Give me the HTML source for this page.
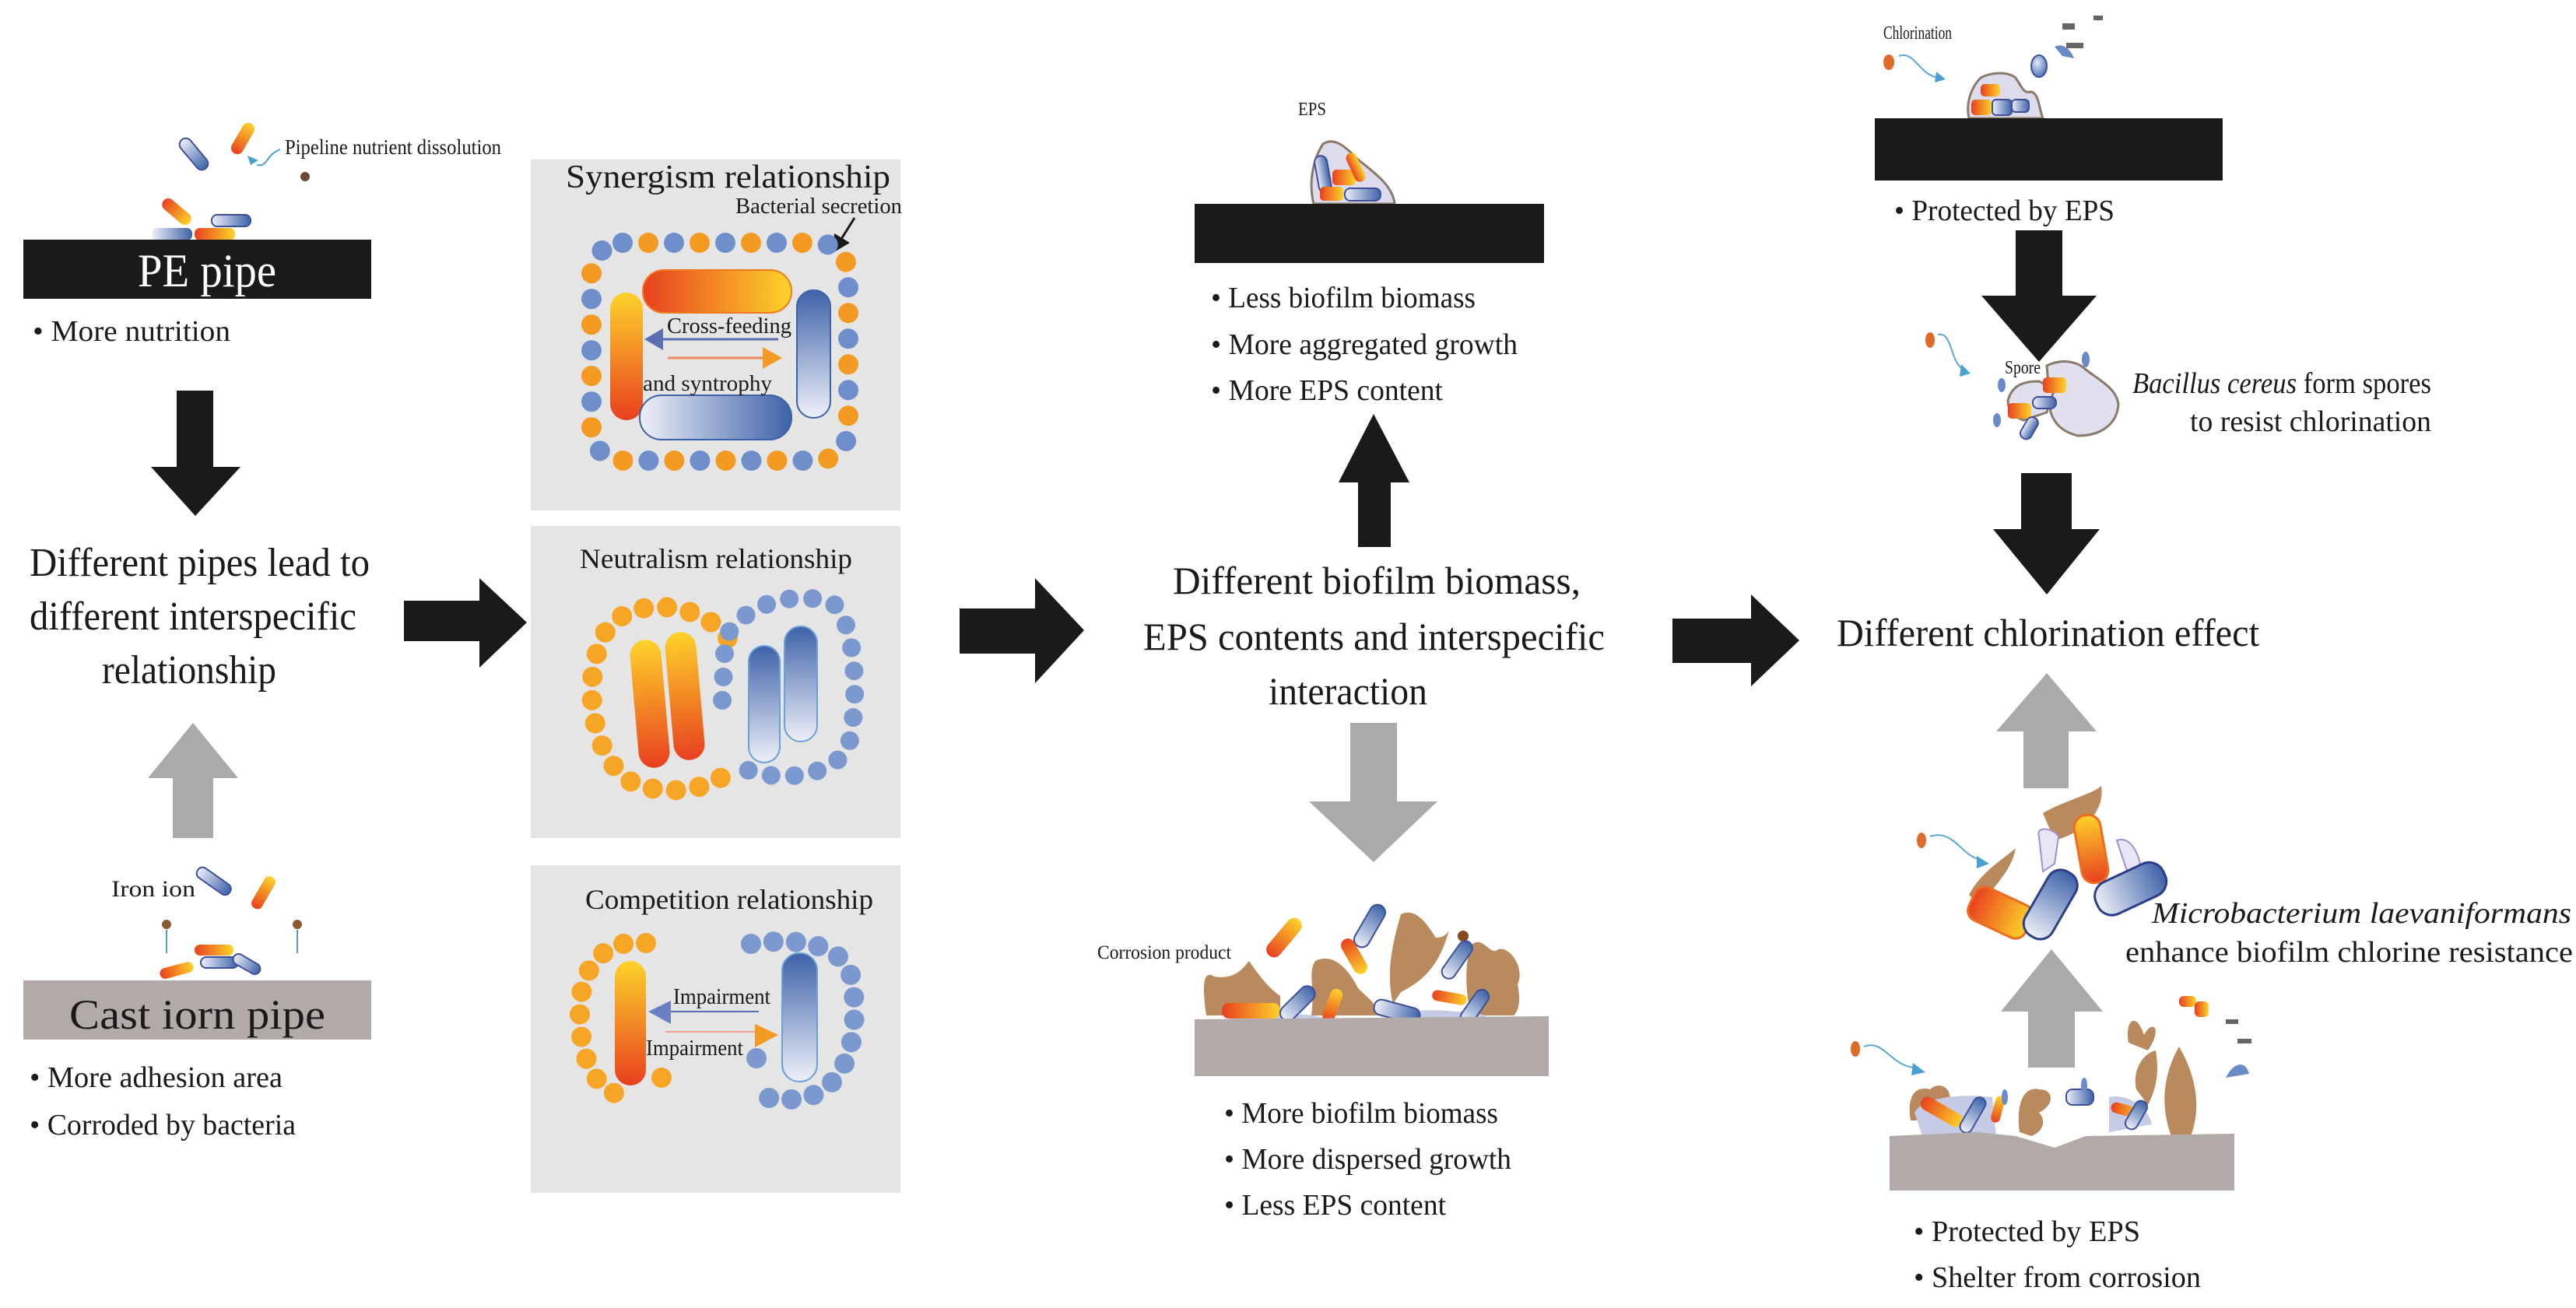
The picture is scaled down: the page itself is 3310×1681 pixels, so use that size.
<!DOCTYPE html>
<html><head><meta charset="utf-8"><style>
html,body{margin:0;padding:0;background:#fff;}
svg{display:block;}
text{font-family:"Liberation Serif",serif;fill:#1a1a1a;}
</style></head><body>
<svg width="3310" height="1681" viewBox="0 0 3310 1681" xmlns="http://www.w3.org/2000/svg">
<defs>
<linearGradient id="og" x1="0" y1="0" x2="1" y2="0"><stop offset="0" stop-color="#e8401f"/><stop offset="1" stop-color="#fdd32a"/></linearGradient>
<linearGradient id="ogv" x1="0" y1="1" x2="0" y2="0"><stop offset="0" stop-color="#e8401f"/><stop offset="1" stop-color="#fdd32a"/></linearGradient>
<linearGradient id="bg" x1="0" y1="0" x2="1" y2="0"><stop offset="0" stop-color="#eef0f8"/><stop offset="1" stop-color="#3d62a8"/></linearGradient>
<linearGradient id="bgv" x1="0" y1="1" x2="0" y2="0"><stop offset="0" stop-color="#eef0f8"/><stop offset="1" stop-color="#3d62a8"/></linearGradient>
<radialGradient id="od" cx="0.4" cy="0.35" r="0.7"><stop offset="0" stop-color="#fdd32a"/><stop offset="1" stop-color="#f07a20"/></radialGradient>
<radialGradient id="bd" cx="0.4" cy="0.35" r="0.7"><stop offset="0" stop-color="#e6eaf5"/><stop offset="1" stop-color="#4a6fb5"/></radialGradient>
</defs>

<!-- ===== LEFT COLUMN ===== -->
<text x="366" y="198" font-size="27" textLength="278" lengthAdjust="spacingAndGlyphs">Pipeline nutrient dissolution</text>
<path d="M360 192 C340 200 345 215 330 212" stroke="#4aa0d0" stroke-width="2" fill="none"/>
<polygon points="318,200 332,206 322,212" fill="#4aa0d0"/>
<circle cx="392" cy="227" r="6" fill="#6b4a3a"/>
<rect x="225" y="190" width="48" height="16" rx="8" fill="url(#bg)" stroke="#3d4f9a" stroke-width="2" transform="rotate(50 249 198)"/>
<rect x="290" y="170" width="44" height="16" rx="8" fill="url(#og)" transform="rotate(-60 312 178)"/>
<rect x="205" y="264" width="44" height="16" rx="8" fill="url(#og)" transform="rotate(40 227 272)"/>
<rect x="272" y="276" width="50" height="15" rx="7" fill="url(#bg)" stroke="#3d4f9a" stroke-width="2"/>
<rect x="195" y="293" width="52" height="16" rx="7" fill="url(#bg)"/>
<rect x="250" y="293" width="52" height="16" rx="7" fill="url(#og)"/>
<rect x="30" y="308" width="447" height="76" fill="#1a1a1a"/>
<text x="177" y="368" font-size="60" style="fill:#fff" textLength="178" lengthAdjust="spacingAndGlyphs">PE pipe</text>
<text x="42" y="438" font-size="38" textLength="254" lengthAdjust="spacingAndGlyphs">• More nutrition</text>
<polygon points="227,502 274,502 274,600 309,600 251,663 194,600 227,600" fill="#1a1a1a"/>
<text x="38" y="740" font-size="52" textLength="437" lengthAdjust="spacingAndGlyphs">Different pipes lead to</text>
<text x="38" y="809" font-size="52" textLength="420" lengthAdjust="spacingAndGlyphs">different interspecific</text>
<text x="131" y="878" font-size="52" textLength="224" lengthAdjust="spacingAndGlyphs">relationship</text>
<polygon points="248,929 306,1000 274,1000 274,1077 222,1077 222,1000 190,1000" fill="#a9abaa"/>
<text x="143" y="1152" font-size="30" textLength="108" lengthAdjust="spacingAndGlyphs">Iron ion</text>
<rect x="250" y="1125" width="50" height="15" rx="7" fill="url(#bg)" stroke="#3d4f9a" stroke-width="2" transform="rotate(35 275 1132)"/>
<rect x="315" y="1140" width="46" height="15" rx="7" fill="url(#og)" transform="rotate(-60 338 1147)"/>
<circle cx="214" cy="1188" r="6" fill="#8a5a30"/><circle cx="382" cy="1188" r="6" fill="#8a5a30"/>
<path d="M214 1195 L214 1225" stroke="#4aa0d0" stroke-width="2"/><path d="M382 1195 L382 1225" stroke="#4aa0d0" stroke-width="2"/>
<rect x="205" y="1240" width="44" height="14" rx="7" fill="url(#og)" transform="rotate(-15 227 1247)"/>
<rect x="250" y="1214" width="50" height="14" rx="7" fill="url(#og)"/>
<rect x="258" y="1230" width="48" height="14" rx="7" fill="url(#bg)" stroke="#3d4f9a" stroke-width="2"/>
<rect x="298" y="1232" width="38" height="14" rx="7" fill="url(#bg)" stroke="#3d4f9a" stroke-width="2" transform="rotate(30 317 1239)"/>
<rect x="30" y="1260" width="447" height="76" fill="#b1aaa8"/>
<text x="89" y="1322" font-size="54" textLength="329" lengthAdjust="spacingAndGlyphs">Cast iorn pipe</text>
<text x="38" y="1397" font-size="38" textLength="325" lengthAdjust="spacingAndGlyphs">• More adhesion area</text>
<text x="38" y="1458" font-size="38" textLength="342" lengthAdjust="spacingAndGlyphs">• Corroded by bacteria</text>

<polygon points="519,772 616,772 616,743 677,800 616,858 616,824 519,824" fill="#1a1a1a"/>

<!-- ===== PANELS ===== -->
<rect x="682" y="205" width="475" height="451" fill="#e6e5e6"/>
<rect x="682" y="676" width="475" height="401" fill="#e6e5e6"/>
<rect x="682" y="1112" width="475" height="421" fill="#e6e5e6"/>

<!-- synergism -->
<text x="727" y="241" font-size="42" textLength="417" lengthAdjust="spacingAndGlyphs">Synergism  relationship</text>
<text x="945" y="274" font-size="28" textLength="214" lengthAdjust="spacingAndGlyphs">Bacterial secretion</text>
<path d="M1098 280 L1078 312" stroke="#1a1a1a" stroke-width="3"/>
<polygon points="1070,325 1072,300 1092,312" fill="#1a1a1a"/>
<rect x="760" y="312" width="330" height="280" rx="40" fill="none" stroke="#6f8fcc" stroke-width="26" stroke-dasharray="0 66" stroke-linecap="round"/>
<rect x="760" y="312" width="330" height="280" rx="40" fill="none" stroke="#f39a22" stroke-width="26" stroke-dasharray="0 66" stroke-dashoffset="33" stroke-linecap="round"/>
<rect x="826" y="347" width="191" height="55" rx="27" fill="url(#og)" stroke="#f07a20" stroke-width="2"/>
<rect x="784" y="376" width="42" height="164" rx="21" fill="url(#ogv)"/>
<rect x="1024" y="373" width="43" height="164" rx="21" fill="url(#bgv)" stroke="#3d62a8" stroke-width="2"/>
<rect x="822" y="508" width="195" height="57" rx="28" fill="url(#bg)" stroke="#3d62a8" stroke-width="2"/>
<text x="857" y="428" font-size="28" textLength="160" lengthAdjust="spacingAndGlyphs">Cross-feeding</text>
<path d="M848 436 L1000 436" stroke="#5a6fb0" stroke-width="3"/>
<polygon points="828,436 852,422 852,450" fill="#5a6fb0"/>
<path d="M858 460 L985 460" stroke="#f08a60" stroke-width="3"/>
<polygon points="1005,460 980,446 980,474" fill="#f39a22"/>
<text x="826" y="502" font-size="28" textLength="166" lengthAdjust="spacingAndGlyphs">and syntrophy</text>

<!-- neutralism -->
<text x="745" y="730" font-size="36" textLength="350" lengthAdjust="spacingAndGlyphs">Neutralism relationship</text>
<path d="M935 820 C900 770 790 760 770 830 C745 900 770 1000 830 1012 C880 1022 915 1010 940 990" fill="none" stroke="#f7a525" stroke-width="26" stroke-dasharray="0 30" stroke-linecap="round"/>
<path d="M928 900 L932 820 C960 770 1030 760 1070 775 C1100 800 1105 900 1090 960 C1070 1000 990 1010 940 980" fill="none" stroke="#7b98cf" stroke-width="24" stroke-dasharray="0 30" stroke-linecap="round"/>
<rect x="815" y="822" width="40" height="165" rx="20" fill="url(#ogv)" transform="rotate(-5 835 904)"/>
<rect x="860" y="812" width="40" height="165" rx="20" fill="url(#ogv)" transform="rotate(-5 880 894)"/>
<rect x="962" y="830" width="40" height="150" rx="20" fill="url(#bgv)" stroke="#6aa0d8" stroke-width="2"/>
<rect x="1008" y="805" width="42" height="148" rx="21" fill="url(#bgv)" stroke="#6aa0d8" stroke-width="2"/>

<!-- competition -->
<text x="752" y="1168" font-size="36" textLength="370" lengthAdjust="spacingAndGlyphs">Competition relationship</text>
<path d="M830 1212 C780 1205 745 1240 745 1300 C745 1370 770 1410 815 1410" fill="none" stroke="#f7a525" stroke-width="26" stroke-dasharray="0 29" stroke-linecap="round"/>
<circle cx="850" cy="1385" r="13" fill="#f7a525"/>
<path d="M965 1213 C1020 1205 1085 1210 1095 1260 C1105 1330 1090 1400 1030 1412 C1000 1415 985 1410 970 1408" fill="none" stroke="#7b98cf" stroke-width="26" stroke-dasharray="0 29" stroke-linecap="round"/>
<circle cx="972" cy="1360" r="13" fill="#7b98cf"/>
<rect x="790" y="1235" width="40" height="160" rx="20" fill="url(#ogv)"/>
<rect x="1005" y="1225" width="45" height="165" rx="22" fill="url(#bgv)" stroke="#6aa0d8" stroke-width="2"/>
<text x="865" y="1290" font-size="28" textLength="125" lengthAdjust="spacingAndGlyphs">Impairment</text>
<path d="M855 1300 L975 1300" stroke="#5a6fb0" stroke-width="2"/>
<polygon points="833,1300 862,1286 862,1316" fill="#6a7fc0"/>
<path d="M855 1326 L978 1326" stroke="#f0a090" stroke-width="2"/>
<polygon points="1000,1330 970,1316 970,1346" fill="#f39a22"/>
<text x="830" y="1356" font-size="28" textLength="125" lengthAdjust="spacingAndGlyphs">Impairment</text>

<polygon points="1233,782 1330,782 1330,743 1393,810 1330,878 1330,840 1233,840" fill="#1a1a1a"/>

<!-- ===== CENTER ===== -->
<text x="1668" y="148" font-size="24" textLength="36" lengthAdjust="spacingAndGlyphs">EPS</text>
<path d="M1688 262 C1680 230 1690 200 1700 185 C1715 175 1730 190 1745 205 C1770 225 1790 240 1792 262 Z" fill="#dcdcec" stroke="#8a7a6a" stroke-width="3"/>
<rect x="1692" y="200" width="16" height="48" rx="8" fill="url(#bg)" stroke="#3d4f9a" stroke-width="2" transform="rotate(-10 1700 224)"/>
<rect x="1712" y="218" width="30" height="20" rx="5" fill="url(#og)"/>
<rect x="1696" y="240" width="30" height="18" rx="5" fill="url(#og)"/>
<rect x="1728" y="242" width="46" height="16" rx="7" fill="url(#bg)" stroke="#3d4f9a" stroke-width="2"/>
<rect x="1735" y="195" width="14" height="40" rx="7" fill="url(#og)" transform="rotate(-25 1742 215)"/>
<rect x="1535" y="262" width="449" height="76" fill="#1a1a1a"/>
<text x="1556" y="395" font-size="38" textLength="340" lengthAdjust="spacingAndGlyphs">• Less biofilm biomass</text>
<text x="1556" y="455" font-size="38" textLength="394" lengthAdjust="spacingAndGlyphs">• More aggregated growth</text>
<text x="1556" y="514" font-size="38" textLength="298" lengthAdjust="spacingAndGlyphs">• More EPS content</text>
<polygon points="1765,532 1811,620 1787,620 1787,703 1745,703 1745,620 1720,620" fill="#1a1a1a"/>
<text x="1507" y="763" font-size="50" textLength="524" lengthAdjust="spacingAndGlyphs">Different biofilm biomass,</text>
<text x="1469" y="835" font-size="50" textLength="593" lengthAdjust="spacingAndGlyphs">EPS contents and interspecific</text>
<text x="1630" y="905" font-size="50" textLength="204" lengthAdjust="spacingAndGlyphs">interaction</text>
<polygon points="1735,929 1795,929 1795,1030 1847,1030 1765,1108 1682,1030 1735,1030" fill="#a9abaa"/>
<text x="1410" y="1232" font-size="25" textLength="172" lengthAdjust="spacingAndGlyphs">Corrosion product</text>
<path d="M1550 1305 C1545 1270 1545 1245 1560 1255 C1590 1260 1600 1240 1605 1235 C1615 1250 1630 1270 1645 1280 L1645 1305 Z" fill="#b98a5e"/>
<path d="M1685 1305 C1690 1270 1680 1250 1690 1235 C1710 1225 1730 1240 1745 1270 C1760 1285 1770 1290 1770 1305 Z" fill="#b98a5e"/>
<path d="M1790 1290 C1780 1250 1790 1210 1800 1175 C1820 1165 1835 1190 1845 1205 C1855 1205 1860 1200 1862 1195 C1850 1240 1830 1260 1800 1275 Z" fill="#b98a5e"/>
<path d="M1890 1305 C1880 1260 1885 1230 1890 1215 C1905 1200 1915 1230 1925 1220 C1940 1215 1960 1245 1950 1265 C1955 1290 1950 1300 1945 1305 Z" fill="#b98a5e"/>
<circle cx="1880" cy="1203" r="7" fill="#8a4a20"/>
<path d="M1570 1320 C1580 1300 1620 1300 1650 1305 C1690 1300 1720 1310 1720 1330 L1570 1330 Z" fill="#c6cbe5"/>
<path d="M1770 1320 C1790 1300 1830 1295 1870 1300 C1900 1300 1920 1305 1925 1325 L1770 1330 Z" fill="#c6cbe5"/>
<rect x="1620" y="1195" width="60" height="20" rx="10" fill="url(#og)" transform="rotate(-50 1650 1205)"/>
<rect x="1730" y="1180" width="60" height="20" rx="10" fill="url(#bg)" stroke="#3d4f9a" stroke-width="2" transform="rotate(-60 1760 1190)"/>
<rect x="1715" y="1220" width="50" height="18" rx="9" fill="url(#og)" transform="rotate(60 1740 1229)"/>
<rect x="1570" y="1289" width="75" height="20" rx="9" fill="url(#og)"/>
<rect x="1640" y="1280" width="55" height="20" rx="10" fill="url(#bg)" stroke="#3d4f9a" stroke-width="2" transform="rotate(-45 1667 1290)"/>
<rect x="1690" y="1285" width="45" height="16" rx="8" fill="url(#og)" transform="rotate(-70 1712 1293)"/>
<rect x="1845" y="1225" width="55" height="18" rx="9" fill="url(#bg)" stroke="#3d4f9a" stroke-width="2" transform="rotate(-55 1872 1234)"/>
<rect x="1765" y="1290" width="60" height="20" rx="9" fill="url(#bg)" stroke="#3d4f9a" stroke-width="2" transform="rotate(15 1795 1300)"/>
<rect x="1840" y="1275" width="45" height="14" rx="7" fill="url(#og)" transform="rotate(10 1862 1282)"/>
<rect x="1870" y="1285" width="50" height="18" rx="9" fill="url(#bg)" stroke="#3d4f9a" stroke-width="2" transform="rotate(-55 1895 1294)"/>
<path d="M1535 1310 L1990 1306 L1990 1383 L1535 1383 Z" fill="#b1aaa8"/>
<text x="1573" y="1443" font-size="38" textLength="352" lengthAdjust="spacingAndGlyphs">• More biofilm biomass</text>
<text x="1573" y="1502" font-size="38" textLength="369" lengthAdjust="spacingAndGlyphs">• More dispersed growth</text>
<text x="1573" y="1561" font-size="38" textLength="285" lengthAdjust="spacingAndGlyphs">• Less EPS content</text>

<polygon points="2149,795 2250,795 2250,764 2312,823 2250,882 2250,852 2149,852" fill="#1a1a1a"/>

<!-- ===== RIGHT ===== -->
<text x="2420" y="50" font-size="24" textLength="88" lengthAdjust="spacingAndGlyphs">Chlorination</text>
<ellipse cx="2427" cy="80" rx="7" ry="10" fill="#e06a2a"/>
<path d="M2440 72 C2460 65 2465 95 2490 100" stroke="#5aa8d8" stroke-width="2" fill="none"/>
<polygon points="2488,92 2500,102 2486,106" fill="#4aa0d0"/>
<path d="M2530 152 C2525 130 2535 110 2545 100 C2560 92 2580 92 2590 100 C2600 115 2600 120 2610 118 C2620 120 2620 140 2625 152 Z" fill="#dcdcec" stroke="#8a7a6a" stroke-width="3"/>
<rect x="2545" y="108" width="25" height="16" rx="5" fill="url(#og)"/>
<rect x="2533" y="128" width="26" height="20" rx="5" fill="url(#og)"/>
<rect x="2560" y="128" width="25" height="20" rx="5" fill="url(#bg)" stroke="#3d4f9a" stroke-width="2"/>
<rect x="2585" y="128" width="22" height="16" rx="5" fill="url(#bg)" stroke="#3d4f9a" stroke-width="2"/>
<path d="M2640 60 C2650 55 2660 62 2665 75 L2650 72 Z" fill="#6a8ac8"/>
<ellipse cx="2620" cy="85" rx="10" ry="14" fill="url(#bd)" stroke="#3d4f9a" stroke-width="2"/>
<rect x="2650" y="30" width="16" height="8" fill="#666"/><rect x="2655" y="55" width="22" height="7" fill="#666"/><rect x="2690" y="20" width="12" height="6" fill="#666"/>
<rect x="2409" y="152" width="447" height="80" fill="#1a1a1a"/>
<text x="2434" y="283" font-size="38" textLength="283" lengthAdjust="spacingAndGlyphs">• Protected by EPS</text>
<polygon points="2590,296 2650,296 2650,380 2694,380 2620,465 2546,380 2590,380" fill="#1a1a1a"/>
<ellipse cx="2480" cy="437" rx="6" ry="10" fill="#e06a2a"/>
<path d="M2490 430 C2510 425 2505 470 2525 475" stroke="#5aa8d8" stroke-width="2" fill="none"/>
<polygon points="2520,468 2532,480 2518,484" fill="#4aa0d0"/>
<text x="2576" y="480" font-size="24" textLength="46" lengthAdjust="spacingAndGlyphs">Spore</text>
<path d="M2630 470 C2650 460 2670 465 2680 475 C2700 490 2720 500 2722 520 C2720 545 2700 560 2670 560 C2650 555 2640 545 2635 530 Z" fill="#e0e0ee" stroke="#8a7a6a" stroke-width="3"/>
<path d="M2580 515 C2585 495 2600 490 2620 490 L2640 500 L2630 530 L2600 540 C2585 535 2580 525 2580 515 Z" fill="#e0e0ee" stroke="#8a7a6a" stroke-width="3"/>
<rect x="2625" y="485" width="30" height="20" rx="5" fill="url(#og)"/>
<rect x="2580" y="518" width="30" height="20" rx="5" fill="url(#og)"/>
<rect x="2612" y="510" width="30" height="15" rx="7" fill="url(#bg)" stroke="#3d4f9a" stroke-width="2"/>
<rect x="2600" y="535" width="15" height="30" rx="7" fill="url(#bg)" stroke="#3d4f9a" stroke-width="2" transform="rotate(30 2607 550)"/>
<ellipse cx="2572" cy="495" rx="5" ry="9" fill="#6a8ac8"/><ellipse cx="2566" cy="540" rx="5" ry="9" fill="#6a8ac8"/><ellipse cx="2680" cy="462" rx="5" ry="10" fill="#6a8ac8"/>
<text x="2740" y="505" font-size="38" textLength="384" lengthAdjust="spacingAndGlyphs"><tspan font-style="italic">Bacillus cereus</tspan> form spores</text>
<text x="2814" y="554" font-size="38" textLength="310" lengthAdjust="spacingAndGlyphs">to resist chlorination</text>
<polygon points="2597,608 2662,608 2662,680 2698,680 2630,764 2561,680 2597,680" fill="#1a1a1a"/>
<text x="2360" y="830" font-size="50" textLength="543" lengthAdjust="spacingAndGlyphs">Different chlorination effect</text>
<polygon points="2630,865 2694,940 2658,940 2658,1013 2600,1013 2600,940 2565,940" fill="#a9abaa"/>
<!-- microbacterium cluster -->
<path d="M2530 1150 C2545 1120 2580 1100 2590 1090 C2585 1120 2560 1140 2545 1165 Z" fill="#b98a5e"/>
<path d="M2625 1045 C2650 1030 2690 1020 2700 1010 C2705 1040 2680 1070 2640 1080 Z" fill="#b98a5e"/>
<path d="M2620 1075 C2615 1060 2640 1065 2645 1075 L2640 1110 L2625 1120 Z" fill="#e8e6f4" stroke="#a090d0" stroke-width="2"/>
<path d="M2720 1080 C2735 1075 2745 1090 2750 1110 L2735 1125 Z" fill="#e8e6f4" stroke="#a090d0" stroke-width="2"/>
<rect x="2670" y="1047" width="34" height="88" rx="16" fill="url(#ogv)" stroke="#f06a20" stroke-width="3" transform="rotate(-10 2687 1091)"/>
<rect x="2530" y="1150" width="80" height="46" rx="14" fill="url(#og)" stroke="#f06a20" stroke-width="3" transform="rotate(25 2570 1173)"/>
<rect x="2615" y="1115" width="40" height="95" rx="18" fill="url(#bgv)" stroke="#2e3d8a" stroke-width="3" transform="rotate(30 2635 1162)"/>
<rect x="2690" y="1120" width="95" height="45" rx="20" fill="url(#bg)" stroke="#2e3d8a" stroke-width="3" transform="rotate(-25 2737 1142)"/>
<ellipse cx="2469" cy="1080" rx="6" ry="10" fill="#e06a2a"/>
<path d="M2480 1075 C2510 1065 2520 1100 2545 1105" stroke="#5aa8d8" stroke-width="2" fill="none"/>
<polygon points="2556,1110 2540,1100 2540,1116" fill="#4aa0d0"/>
<text x="2765" y="1186" font-size="38" font-style="italic" textLength="539" lengthAdjust="spacingAndGlyphs">Microbacterium laevaniformans</text>
<text x="2731" y="1236" font-size="38" textLength="575" lengthAdjust="spacingAndGlyphs">enhance biofilm chlorine resistance</text>
<polygon points="2636,1220 2702,1300 2666,1300 2666,1372 2606,1372 2606,1300 2571,1300" fill="#a9abaa"/>
<!-- bottom right biofilm -->
<ellipse cx="2384" cy="1348" rx="6" ry="10" fill="#e06a2a"/>
<path d="M2395 1345 C2420 1335 2430 1370 2460 1372" stroke="#5aa8d8" stroke-width="2" fill="none"/>
<polygon points="2474,1378 2458,1366 2456,1382" fill="#4aa0d0"/>
<path d="M2455 1440 C2450 1410 2460 1395 2480 1400 C2490 1390 2510 1395 2505 1420 L2500 1440 Z" fill="#b98a5e"/>
<path d="M2595 1455 C2590 1420 2600 1395 2620 1400 C2640 1400 2640 1420 2620 1430 C2630 1440 2625 1455 2610 1460 Z" fill="#b98a5e"/>
<path d="M2790 1460 C2775 1420 2780 1380 2800 1345 C2820 1380 2830 1420 2815 1460 Z" fill="#b98a5e"/>
<path d="M2745 1400 C2740 1380 2750 1355 2770 1350 C2775 1380 2770 1400 2760 1420 Z" fill="#b98a5e"/>
<path d="M2735 1340 C2730 1310 2745 1300 2755 1330 C2765 1310 2780 1320 2760 1350 Z" fill="#b98a5e"/>
<path d="M2460 1430 C2470 1410 2520 1405 2560 1410 L2565 1460 L2470 1460 Z" fill="#c6cbe5"/>
<path d="M2710 1410 C2730 1405 2760 1420 2765 1445 L2710 1455 Z" fill="#c6cbe5"/>
<rect x="2465" y="1420" width="60" height="18" rx="9" fill="url(#og)" transform="rotate(30 2495 1429)"/>
<rect x="2510" y="1425" width="50" height="16" rx="8" fill="url(#bg)" stroke="#3d4f9a" stroke-width="2" transform="rotate(-60 2535 1433)"/>
<rect x="2550" y="1420" width="35" height="12" rx="6" fill="url(#og)" transform="rotate(-75 2567 1426)"/>
<rect x="2655" y="1400" width="35" height="20" rx="8" fill="url(#bg)" stroke="#3d4f9a" stroke-width="2"/>
<rect x="2712" y="1420" width="40" height="14" rx="7" fill="url(#og)" transform="rotate(15 2732 1427)"/>
<rect x="2725" y="1425" width="40" height="16" rx="8" fill="url(#bg)" stroke="#3d4f9a" stroke-width="2" transform="rotate(-60 2745 1433)"/>
<ellipse cx="2576" cy="1410" rx="4" ry="10" fill="#6a8ac8"/><ellipse cx="2678" cy="1395" rx="4" ry="10" fill="#6a8ac8"/>
<rect x="2800" y="1280" width="22" height="14" rx="6" fill="url(#og)"/>
<rect x="2820" y="1287" width="18" height="20" rx="6" fill="url(#og)"/>
<rect x="2860" y="1310" width="16" height="6" fill="#666"/><rect x="2875" y="1335" width="18" height="6" fill="#666"/>
<path d="M2860 1385 C2870 1365 2885 1362 2890 1380 Z" fill="#6a8ac8"/>
<path d="M2428 1460 L2540 1455 L2590 1460 L2640 1475 L2680 1460 L2871 1457 L2871 1530 L2428 1530 Z" fill="#b1aaa8"/>
<text x="2459" y="1595" font-size="38" textLength="291" lengthAdjust="spacingAndGlyphs">• Protected by EPS</text>
<text x="2459" y="1654" font-size="38" textLength="369" lengthAdjust="spacingAndGlyphs">• Shelter from corrosion</text>
</svg>
</body></html>
